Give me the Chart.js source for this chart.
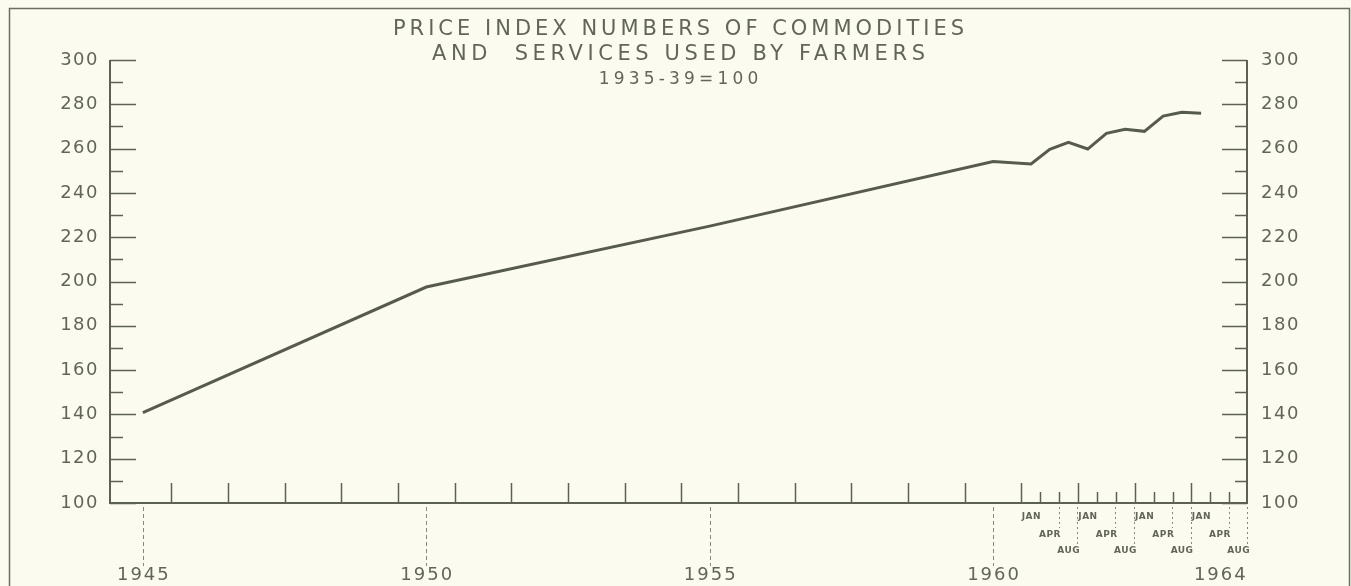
<!DOCTYPE html>
<html>
<head>
<meta charset="utf-8">
<script src="https://cdn.jsdelivr.net/npm/chart.js@4.4.0/dist/chart.umd.min.js"></script>
<style>
  html, body { margin: 0; padding: 0; background: #fbfcef; }
  #wrap { width: 1351px; height: 586px; }
</style>
</head>
<body>
<div id="wrap"><canvas id="priceChart"></canvas></div>
<script>
// annual averages
const annualYears = [1945, 1950, 1955, 1960];
const annualIndex = [140.8, 197.5, 225.0, 254.2];

// Jan / Apr / Aug readings 1961-64, placed at thirds of a year after 1960
const monthLabels = ['JAN', 'APR', 'AUG', 'JAN', 'APR', 'AUG', 'JAN', 'APR', 'AUG', 'JAN', 'APR', 'AUG'];
const monthPos = [1960.67, 1961.00, 1961.33, 1961.67, 1962.00, 1962.33, 1962.67, 1963.00, 1963.33, 1963.67, 1964.00, 1964.33];
const monthIndex = [253.1, 259.7, 262.8, 259.8, 266.9, 268.7, 267.8, 274.7, 276.4, 276.0, null, null];

const yearLabels = [1945, 1950, 1955, 1960, 1964];
const titleLines = ['PRICE INDEX NUMBERS OF COMMODITIES', 'AND  SERVICES USED BY FARMERS', '1935-39=100'];

// x tick marks: year boundaries, then thirds after 1960
const majorTicksX = [];
for (let y = 1945.5; y < 1964; y++) majorTicksX.push(y);
const minorTicksX = [];
for (let y = 1960.5; y < 1964; y++) minorTicksX.push(y + 1 / 3, y + 2 / 3);

const ink = '#5d6154';
const textInk = '#626659';
const font = 'DejaVu Sans';

const points = annualYears.map((x, i) => ({ x: x, y: annualIndex[i] }))
    .concat(monthPos.map((x, i) => ({ x: x, y: monthIndex[i] })));

function spacedText(ctx, txt, x, y, spacing) {
    ctx.letterSpacing = spacing + 'px';
    ctx.fillText(txt, x + spacing / 2, y);
}

const decor = {
    id: 'decor',
    beforeDraw(chart) {
        chart.ctx.letterSpacing = '1.5px';
    },
    afterDraw(chart) {
        const ctx = chart.ctx;
        const { left, right, top, bottom } = chart.chartArea;
        const xs = chart.scales.x;
        const ys = chart.scales.y;
        ctx.save();

        // outer frame
        ctx.strokeStyle = '#6a6e62';
        ctx.lineWidth = 1.5;
        ctx.beginPath();
        ctx.moveTo(9.5, 586);
        ctx.lineTo(9.5, 8.5);
        ctx.lineTo(1349.5, 8.5);
        ctx.lineTo(1349.5, 586);
        ctx.stroke();

        // axis lines
        ctx.strokeStyle = ink;
        ctx.lineWidth = 2;
        ctx.beginPath();
        ctx.moveTo(left, top);
        ctx.lineTo(left, bottom);
        ctx.lineTo(right, bottom);
        ctx.lineTo(right, top);
        ctx.stroke();

        // y ticks, inward on both sides
        ctx.lineWidth = 1.5;
        ctx.beginPath();
        ys.ticks.forEach(t => {
            const py = Math.round(ys.getPixelForValue(t.value)) + 0.5;
            const major = t.value % 20 === 0;
            ctx.moveTo(left, py);
            ctx.lineTo(left + (major ? 26 : 13), py);
            ctx.moveTo(right, py);
            ctx.lineTo(right - (major ? 25 : 12), py);
        });
        // x ticks
        majorTicksX.forEach(v => {
            const px = Math.round(xs.getPixelForValue(v)) + 0.5;
            ctx.moveTo(px, bottom);
            ctx.lineTo(px, bottom - 20);
        });
        minorTicksX.forEach(v => {
            const px = Math.round(xs.getPixelForValue(v)) + 0.5;
            ctx.moveTo(px, bottom);
            ctx.lineTo(px, bottom - 11);
        });
        ctx.stroke();

        // dashed leaders to year labels
        ctx.lineWidth = 1;
        ctx.strokeStyle = '#85897c';
        ctx.setLineDash([4, 3]);
        ctx.beginPath();
        yearLabels.filter(v => v !== 1964).forEach(v => {
            const px = Math.round(xs.getPixelForValue(v)) + 0.5;
            ctx.moveTo(px, bottom + 4);
            ctx.lineTo(px, 566);
        });
        ctx.stroke();

        // dotted leaders to APR / AUG labels
        ctx.setLineDash([2, 3]);
        ctx.beginPath();
        monthLabels.forEach((m, i) => {
            if (m === 'JAN') return;
            const px = Math.round(xs.getPixelForValue(monthPos[i]) + 9) + 0.5;
            ctx.moveTo(px, bottom + 4);
            ctx.lineTo(px, m === 'APR' ? 528 : 545);
        });
        ctx.stroke();
        ctx.setLineDash([]);

        // labels
        ctx.fillStyle = textInk;
        ctx.textAlign = 'center';
        ctx.textBaseline = 'middle';
        ctx.font = '18px "' + font + '"';
        yearLabels.forEach(v => spacedText(ctx, String(v), xs.getPixelForValue(v), 575, 2));

        ctx.font = 'bold 9px "' + font + '"';
        const rowY = { JAN: 517, APR: 535, AUG: 551 };
        monthLabels.forEach((m, i) => spacedText(ctx, m, xs.getPixelForValue(monthPos[i]), rowY[m], 0.5));

        const cx = (left + right) / 2;
        ctx.font = '21px "' + font + '"';
        spacedText(ctx, titleLines[0], cx, 30, 4);
        spacedText(ctx, titleLines[1], cx, 55, 4.6);
        ctx.font = '17px "' + font + '"';
        spacedText(ctx, titleLines[2], cx, 80, 4.2);

        ctx.restore();
    }
};

function yAxis(side, width, pad) {
    return {
        type: 'linear',
        position: side,
        min: 100,
        max: 300,
        ticks: {
            stepSize: 10,
            autoSkip: false,
            padding: pad,
            color: textInk,
            font: { family: font, size: 18 },
            callback: v => (v % 20 === 0 ? v : '')
        },
        grid: { display: false, drawTicks: false },
        border: { display: false },
        afterFit: s => { s.width = width; }
    };
}

new Chart(document.getElementById('priceChart'), {
    type: 'line',
    data: {
        datasets: [{
            label: 'Prices paid index',
            data: points,
            borderColor: '#575b4e',
            borderWidth: 3,
            pointRadius: 0,
            tension: 0,
            fill: false,
            yAxisID: 'y'
        }]
    },
    options: {
        responsive: true,
        maintainAspectRatio: false,
        animation: false,
        layout: { padding: { top: 60, left: 0, right: 0, bottom: 0 } },
        plugins: { legend: { display: false }, tooltip: { enabled: false } },
        scales: {
            x: {
                type: 'linear',
                min: 1944.42,
                max: 1964.48,
                ticks: { display: false },
                grid: { display: false, drawTicks: false },
                border: { display: false },
                afterFit: s => { s.height = 83; }
            },
            y: yAxis('left', 110, 11),
            y2: yAxis('right', 104, 14)
        }
    },
    plugins: [decor]
});
</script>
</body>
</html>
